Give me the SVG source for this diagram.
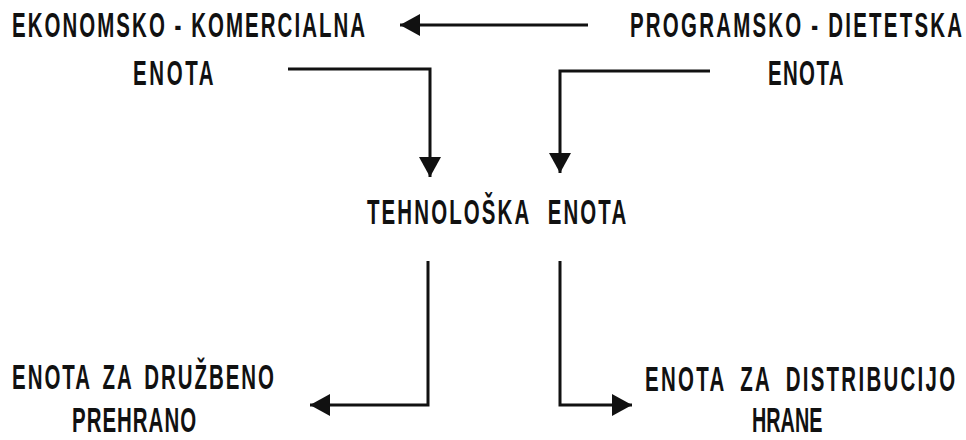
<svg xmlns="http://www.w3.org/2000/svg" width="966" height="440" viewBox="0 0 966 440">
  <defs>
    <style>
      .t { font-family: "Liberation Sans", Arial, sans-serif; font-weight: bold; font-size: 35px; fill: #111; }
      .c { fill: none; stroke: #111; stroke-width: 3; marker-end: url(#ah); }
    </style>
    <marker id="ah" viewBox="0 0 20 22" refX="20" refY="11" markerWidth="20" markerHeight="22" markerUnits="userSpaceOnUse" orient="auto">
      <path d="M0,0 L20,11 L0,22 Z" fill="#111"/>
    </marker>
  </defs>
  <rect width="966" height="440" fill="#fff"/>
  <g id="ekonomsko">
    <text class="t" transform="translate(12,37) scale(0.585,1)" letter-spacing="3.5">EKONOMSKO - KOMERCIALNA</text>
    <text class="t" transform="translate(133,85) scale(0.585,1)" letter-spacing="4.5">ENOTA</text>
  </g>
  <g id="programsko">
    <text class="t" transform="translate(630,37) scale(0.585,1)" letter-spacing="3.8">PROGRAMSKO - DIETETSKA</text>
    <text class="t" transform="translate(768,85) scale(0.585,1)" letter-spacing="2.3">ENOTA</text>
  </g>
  <g id="tehnoloska">
    <text class="t" transform="translate(367,224) scale(0.585,1)" letter-spacing="3.6" word-spacing="16">TEHNOLOŠKA ENOTA</text>
  </g>
  <g id="druzbeno">
    <text class="t" transform="translate(12,389) scale(0.585,1)" letter-spacing="3.4" word-spacing="6">ENOTA ZA DRUŽBENO</text>
    <text class="t" transform="translate(72,432) scale(0.585,1)" letter-spacing="1.7">PREHRANO</text>
  </g>
  <g id="distribucija">
    <text class="t" transform="translate(645,391) scale(0.585,1)" letter-spacing="3.9" word-spacing="11">ENOTA ZA DISTRIBUCIJO</text>
    <text class="t" transform="translate(752,432) scale(0.566,1)" letter-spacing="0">HRANE</text>
  </g>
  <g id="connectors">
    <path class="c" d="M588,25 H400"/>
    <path class="c" d="M288,69 H430 V177"/>
    <path class="c" d="M710,71 H560 V173"/>
    <path class="c" d="M428,261 V405 H310"/>
    <path class="c" d="M560,261 V405 H632"/>
  </g>
</svg>
